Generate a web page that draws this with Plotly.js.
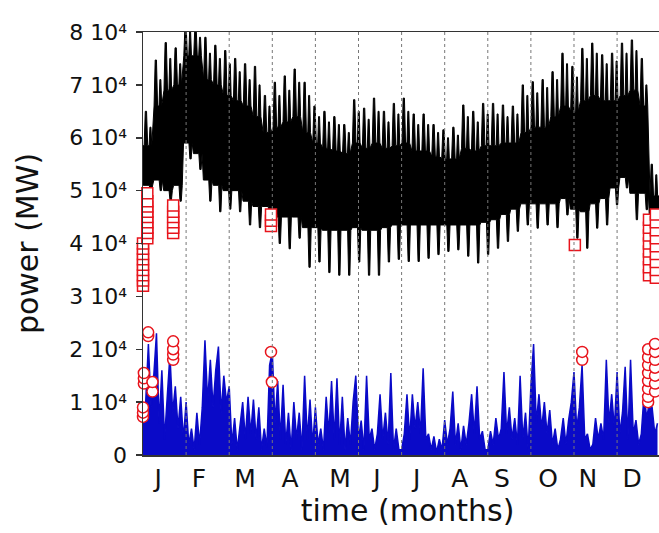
<!DOCTYPE html>
<html><head><meta charset="utf-8">
<script src="https://cdn.plot.ly/plotly-3.0.1.min.js"></script>
<style>html,body{margin:0;padding:0;overflow:hidden;background:#fff}#chart{width:700px;height:533px}</style>
</head><body><div id="chart"></div>
<script>
// ---- axis labels ----
const monthLetters = ["J","F","M","A","M","J","J","A","S","O","N","D"];
const monthLabelPos = [0.35,1.30,2.37,3.41,4.57,5.43,6.35,7.35,8.33,9.40,10.32,11.35];
const monthBounds = [1,2,3,4,5,6,7,8,9,10,11];
const yTickVals = [0,10000,20000,30000,40000,50000,60000,70000,80000];
const yTickText = ["0","1 10\u2074","2 10\u2074","3 10\u2074","4 10\u2074","5 10\u2074","6 10\u2074","7 10\u2074","8 10\u2074"];

// ---- black series (load, MW), values per week ----
const blackPeak = [65000,74700,78000,77000,81000,81000,79000,77500,76500,75000,74000,73500,68000,70500,71700,73000,70500,66000,65000,64000,62500,67200,65600,67500,65000,66500,67500,64500,64500,62500,61500,62000,66200,65000,66500,66500,66200,66000,70000,70600,71000,72500,76000,73500,76900,77900,75700,76000,77900,78500,75000,55000];
const blackSecondPeak = [62000,71000,75000,74000,80000,79000,76000,75000,74000,72500,71000,70000,66000,68000,69000,70500,68000,64000,63000,62500,61000,65000,63500,65000,63000,64500,65000,62500,62500,61000,60000,60500,64000,63000,64500,64500,64000,64500,68000,68500,69500,71000,74000,71500,75000,76000,74000,74500,76000,76500,70000,53000];
const blackTopBase = [58500,66000,69000,70000,75500,75500,71000,70000,68000,67000,66000,64000,61000,62000,63000,64000,61000,59000,58000,57500,57000,59000,58000,59000,58000,58500,59000,57500,57500,56500,56000,56000,58000,57500,58500,58500,59000,59000,61000,62000,62000,64000,66000,65000,67000,68000,67000,67000,68000,69000,66000,49000];
const blackBotBase = [51000,52000,50000,51000,59000,57000,52000,51000,50000,50000,48000,47000,47000,45000,45000,45000,43000,43000,42500,42500,42500,43000,42500,42500,43000,43500,43500,43500,43500,43500,43500,43500,43500,43500,44000,44500,45500,46500,47500,47500,47500,47500,48500,46500,46000,47500,48500,50500,52500,49500,49500,43000];
const blackBotDip = [50000,50000,48000,48000,56000,54000,48000,46000,46500,46000,43500,43000,44000,40000,39000,41000,35500,36500,34500,34000,34000,36500,34000,34000,36500,37000,36600,36600,37200,37900,38500,38800,37600,36300,37900,39100,40400,42300,43500,42900,43500,43000,45400,41000,39100,42900,43500,47300,50500,44500,46400,40000];

// ---- blue series (MW), 16 samples per month ----
const blueJan = [6000,10000,21000,9000,15000,23000,6000,16000,3000,12000,19000,8000,13000,5000,11000,3000];
const blueFeb = [10000,2000,5000,1000,8000,2000,9000,21700,10000,18000,9000,16000,20500,8000,15000,10000];
const blueMar = [13000,2000,7000,1000,5000,10000,3000,11000,4000,10500,3000,9000,1000,5000,1500,17000];
const blueApr = [19500,6000,14000,3000,13300,2000,8000,1000,10000,3000,8000,1000,15000,3000,10500,2000];
const blueMay = [9000,2000,5000,1000,11000,4000,14000,3000,14500,2000,11000,1000,7000,2000,10000,15000];
const blueJun = [3000,6500,1000,15000,3000,5000,1000,4000,11500,3000,8000,2000,15500,1000,5000,1000];
const blueJul = [1000,4000,11500,3000,11500,5000,10000,4000,16400,3000,4000,1000,3500,500,3000,1000];
const blueAug = [6600,2000,5000,12000,2000,6000,1000,5500,2000,6000,11500,4000,13000,3000,4500,1000];
const blueSep = [1000,4500,2000,7000,3000,5000,15700,4000,9000,3000,7000,2000,15000,3000,8000,1000];
const blueOct = [13000,21000,6000,11500,5000,10000,4000,8500,2000,5000,1000,3000,7000,2000,6600,10000];
const blueNov = [15700,5000,9000,17000,3000,4000,1000,2000,7000,3000,6000,3000,18000,6000,11500,5000];
const blueDec = [15700,4000,8000,16700,3000,18000,4000,6600,2000,4000,11500,7000,10000,9000,4000,6000];

// ---- red open squares (time in months, MW) ----
const squareT = [0,0,0,0,0,0,0,0,0, 0.1,0.1,0.1,0.1,0.1,0.1,0.1,0.1,0.1, 0.7,0.7,0.7,0.7,0.7,0.7, 2.97,2.97,2.97, 10.02, 11.74,11.74,11.74,11.74,11.74,11.74,11.74,11.74, 11.9,11.9,11.9,11.9,11.9,11.9,11.9,11.9,11.9];
const squareV = [32000,33000,34000,35000,36000,37000,38000,39000,40000, 41000,42000,43000,44000,45000,46000,47000,48000,49500, 42000,43000,44000,45000,46000,47200, 43300,44300,45500, 39700, 34000,35500,37000,38500,40000,41500,43000,44500, 33500,35000,36500,38000,39500,41000,42500,44000,45500];

// ---- red open circles (time in months, MW) ----
const circleT = [0,0,0, 0.02,0.02,0.02, 0.12,0.12, 0.22,0.22, 0.7,0.7,0.7,0.7, 2.97,2.99, 10.19,10.19, 11.72,11.72,11.72,11.72,11.72,11.72,11.72,11.72, 11.88,11.88,11.88,11.88,11.88,11.88,11.88];
const circleV = [7200,8000,9000, 13500,14500,15500, 22500,23200, 12000,13800, 18000,19000,20000,21500, 19500,13800, 18000,19500, 10000,11000,12500,14000,15500,17000,18500,20000, 12000,13500,15000,16500,18000,19500,21000];

// ---- build traces ----
const dayToMonth = d => d * 12 / 365;
const topX = [], topY = [], botX = [], botY = [];
topX.push(0); topY.push(blackTopBase[0]);
botX.push(0); botY.push(blackBotBase[0]);
for (let w = 0; w < blackPeak.length; w++) {
  const d = 7 * w;
  const tb = blackTopBase[w];
  [[0.8, tb], [1.6, blackPeak[w]], [2.5, blackPeak[w]], [3.3, tb], [4.3, tb],
   [4.9, blackSecondPeak[w]], [5.6, blackSecondPeak[w]], [6.2, tb]].forEach(p => {
    topX.push(dayToMonth(d + p[0])); topY.push(p[1]);
  });
  [[0.6, blackBotBase[w]], [4.4, blackBotBase[w]], [5.1, blackBotDip[w]], [6.0, blackBotDip[w]], [6.7, blackBotBase[w]]].forEach(p => {
    botX.push(dayToMonth(d + p[0])); botY.push(p[1]);
  });
}
topX.push(dayToMonth(365)); topY.push(blackTopBase[blackTopBase.length - 1]);
botX.push(dayToMonth(365)); botY.push(blackBotBase[blackBotBase.length - 1]);
const polyX = topX.concat(botX.slice().reverse());
const polyY = topY.concat(botY.slice().reverse());

const blueMonths = [blueJan,blueFeb,blueMar,blueApr,blueMay,blueJun,blueJul,blueAug,blueSep,blueOct,blueNov,blueDec];
const blueX = [], blueY = [];
blueMonths.forEach((arr, m) => arr.forEach((v, i) => { blueX.push(m + i / arr.length); blueY.push(v); }));

const traces = [
  {x: polyX, y: polyY, type: 'scatter', mode: 'lines', fill: 'toself', fillcolor: '#000', line: {color: '#000', width: 1}, hoverinfo: 'skip'},
  {x: blueX, y: blueY, type: 'scatter', mode: 'lines', fill: 'tozeroy', fillcolor: '#0a0ac8', line: {color: '#0a0ac8', width: 1.5}, hoverinfo: 'skip'},
  {x: squareT, y: squareV, type: 'scatter', mode: 'markers', cliponaxis: false,
   marker: {symbol: 'square', size: 11, color: '#fff', line: {color: '#e8141c', width: 1.5}}},
  {x: circleT, y: circleV, type: 'scatter', mode: 'markers', cliponaxis: false,
   marker: {symbol: 'circle', size: 11, color: '#fff', line: {color: '#e8141c', width: 1.5}}}
];

const layout = {
  width: 700, height: 533,
  margin: {l: 143, r: 28, t: 32, b: 78},
  paper_bgcolor: '#fff', plot_bgcolor: '#fff',
  showlegend: false,
  font: {family: 'DejaVu Sans, sans-serif', color: '#111'},
  xaxis: {
    range: [0, 12.274], tickmode: 'array', tickvals: monthLabelPos, ticktext: monthLetters,
    ticks: '', showgrid: false, zeroline: false, showline: true, linecolor: '#333', linewidth: 1.5, mirror: true,
    tickfont: {size: 25}, title: {text: 'time (months)', font: {size: 30}, standoff: 8}
  },
  yaxis: {
    range: [0, 80000], tickmode: 'array', tickvals: yTickVals, ticktext: yTickText,
    ticks: 'outside', ticklen: 6, tickwidth: 1.5, tickcolor: '#333', ticklabelstandoff: 4,
    showgrid: false, zeroline: false, showline: true, linecolor: '#333', linewidth: 1.5,
    tickfont: {size: 22}, title: {text: 'power (MW)', font: {size: 30}, standoff: 22}
  },
  shapes: monthBounds.map(m => ({type: 'line', xref: 'x', yref: 'paper', x0: m, x1: m, y0: 0, y1: 1,
    line: {color: '#777', width: 1, dash: 'dot'}, layer: 'above'}))
};

Plotly.newPlot('chart', traces, layout, {displayModeBar: false, staticPlot: true});
</script></body></html>
